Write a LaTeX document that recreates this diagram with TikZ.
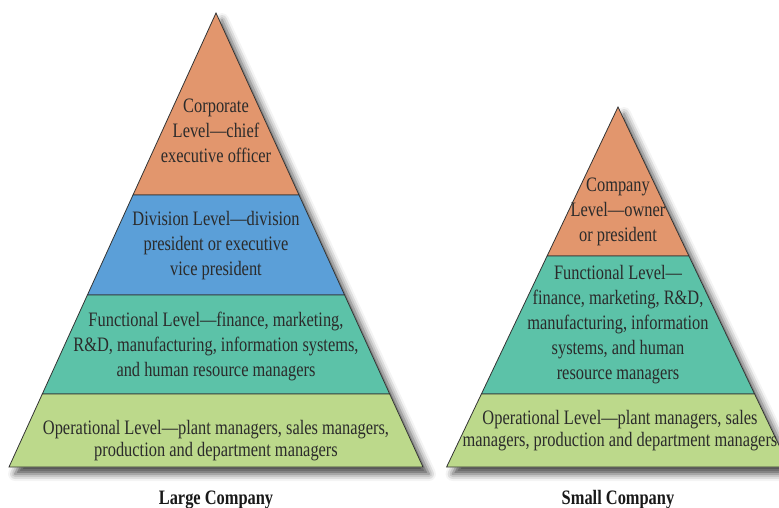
\documentclass[tikz,border=0pt]{standalone}
\usepackage{fontspec}
\setmainfont[FakeStretch=0.8]{Liberation Serif}
\usetikzlibrary{shadows.blur}

\definecolor{corpOrange}{HTML}{E2966D}
\definecolor{divBlue}{HTML}{5B9FD8}
\definecolor{funcTeal}{HTML}{5CC2A8}
\definecolor{operGreen}{HTML}{BCD98B}
\definecolor{inkGray}{HTML}{2B2B2B}

\begin{document}
\begin{tikzpicture}[
    x=1pt, y=-1pt,
    every node/.style={font=\fontsize{20.5}{25}\selectfont, text=inkGray, align=center, inner sep=0pt},
    band/.style={draw=black!80, line width=0.8pt},
    base/.style={fill=white, blur shadow={shadow xshift=6pt, shadow yshift=-7pt, shadow blur radius=7pt, shadow opacity=70}},
    caption/.style={font=\bfseries\fontsize{20.5}{24}\selectfont, text=black!90}
]
    \useasboundingbox (0,0) rectangle (779,508);
    \clip (0,0) rectangle (779,508);

    % large company pyramid
    \path[base] (216,13) -- (423,467) -- (9,467) -- cycle;
    \filldraw[band, fill=corpOrange] (216,13) -- (299,195) -- (133,195) -- cycle;
    \filldraw[band, fill=divBlue] (133,195) -- (299,195) -- (344.6,295) -- (87.4,295) -- cycle;
    \filldraw[band, fill=funcTeal] (87.4,295) -- (344.6,295) -- (389.7,394) -- (42.3,394) -- cycle;
    \filldraw[band, fill=operGreen] (42.3,394) -- (389.7,394) -- (423,467) -- (9,467) -- cycle;

    \node (corp) at (216,131) {Corporate\\Level---chief\\executive officer};
    \node (div) at (216,246) {Division Level---division\\president or executive\\vice president};
    \node (func) at (216,346) {Functional Level---finance, marketing,\\R\&D, manufacturing, information systems,\\and human resource managers};
    \node[font=\fontsize{20.5}{22}\selectfont] (oper) at (216,441) {Operational Level---plant managers, sales managers,\\production and department managers};

    % small company pyramid
    \path[base] (618,107) -- (789.4,467) -- (446.6,467) -- cycle;
    \filldraw[band, fill=corpOrange] (618,107) -- (688.9,256) -- (547.1,256) -- cycle;
    \filldraw[band, fill=funcTeal] (547.1,256) -- (688.9,256) -- (754.6,394) -- (481.4,394) -- cycle;
    \filldraw[band, fill=operGreen] (481.4,394) -- (754.6,394) -- (789.4,467) -- (446.6,467) -- cycle;

    \node (owner) at (618,212) {Company\\Level---owner\\or president};
    \node (sfunc) at (618,325) {Functional Level---\\finance, marketing, R\&D,\\manufacturing, information\\systems, and human\\resource managers};
    \node[font=\fontsize{20.5}{22}\selectfont] (soper) at (620,431) {Operational Level---plant managers, sales\\managers, production and department managers};

    % captions
    \node[caption] (largeCap) at (216,500) {Large Company};
    \node[caption] (smallCap) at (618,500) {Small Company};
\end{tikzpicture}
\end{document}
